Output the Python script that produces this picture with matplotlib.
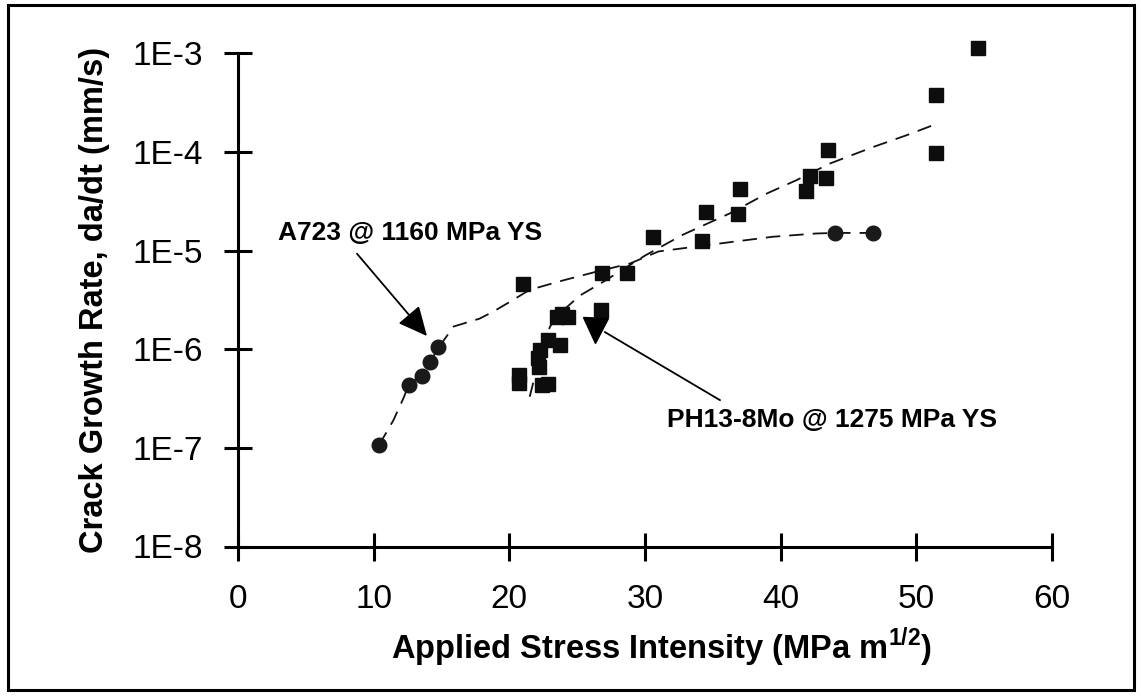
import matplotlib
matplotlib.use('Agg')
import matplotlib.pyplot as plt
from matplotlib.patches import Rectangle
from matplotlib.ticker import FixedLocator, NullLocator, FixedFormatter

# ---------------- data ----------------
# PH13-8Mo @ 1275 MPa YS (squares)
ph_x = [20.73, 20.73, 21.02, 22.13, 22.20, 22.25, 22.38, 22.87, 22.87, 23.73,
        23.48, 23.85, 24.34, 26.73, 26.80, 28.64, 30.56, 34.17, 34.46, 36.82,
        36.99, 41.86, 42.15, 43.33, 43.50, 51.44, 51.44, 54.55]
ph_y = [5.5e-7, 4.5e-7, 4.6e-6, 8.1e-7, 6.6e-7, 9.8e-7, 4.3e-7, 4.4e-7, 1.24e-6, 1.1e-6,
        2.1e-6, 2.3e-6, 2.1e-6, 2.5e-6, 5.96e-6, 5.96e-6, 1.36e-5, 1.26e-5, 2.45e-5, 2.35e-5,
        4.2e-5, 4.0e-5, 5.7e-5, 5.4e-5, 1.04e-4, 9.7e-5, 3.8e-4, 1.14e-3]

# A723 @ 1160 MPa YS (circles)
a723_x = [10.41, 12.62, 13.54, 14.15, 14.76, 44.0, 46.8]
a723_y = [1.07e-7, 4.3e-7, 5.4e-7, 7.4e-7, 1.06e-6, 1.51e-5, 1.51e-5]

# dashed trend curves
ph_fit_x = [21.5, 22.2, 23.0, 24.0, 25.2, 26.9, 28.5, 30.0, 32.8, 36.3,
            39.0, 41.2, 43.6, 46.8, 49.3, 51.2]
ph_fit_y = [3.3e-7, 7.9e-7, 1.7e-6, 2.5e-6, 3.5e-6, 4.8e-6, 6.6e-6, 8.9e-6, 1.45e-5, 2.4e-5,
            3.8e-5, 5.2e-5, 7.6e-5, 1.12e-4, 1.48e-4, 1.86e-4]

a723_fit_x = [10.4, 11.45, 12.2, 12.6, 13.5, 14.15, 14.8, 15.9, 17.8, 18.8,
              20.0, 21.5, 24.0, 26.4, 28.9, 31.0, 35.3, 39.4, 42.6, 44.0, 46.8]
a723_fit_y = [1.07e-7, 1.9e-7, 3.2e-7, 4.4e-7, 5.4e-7, 7.4e-7, 1.05e-6, 1.7e-6, 2.04e-6, 2.4e-6,
              3.0e-6, 4.0e-6, 5.0e-6, 6.1e-6, 7.4e-6, 9.8e-6, 1.17e-5, 1.38e-5, 1.49e-5, 1.51e-5, 1.51e-5]

x_ticks = [0, 10, 20, 30, 40, 50, 60]
x_tick_labels = ['0', '10', '20', '30', '40', '50', '60']
y_ticks = [1e-8, 1e-7, 1e-6, 1e-5, 1e-4, 1e-3]
y_tick_labels = ['1E-8', '1E-7', '1E-6', '1E-5', '1E-4', '1E-3']

x_label = r'Applied Stress Intensity (MPa m$^{\mathbf{1/2}}$)'
y_label = 'Crack Growth Rate, da/dt (mm/s)'
a723_note = 'A723 @ 1160 MPa YS'
ph_note = 'PH13-8Mo @ 1275 MPa YS'

# ---------------- styling ----------------
plt.rcParams['font.family'] = ['Liberation Sans', 'DejaVu Sans']
plt.rcParams['mathtext.fontset'] = 'custom'
plt.rcParams['mathtext.bf'] = 'Liberation Sans:bold'
plt.rcParams['mathtext.rm'] = 'Liberation Sans'

W, H = 1141, 700
fig = plt.figure(figsize=(W / 100, H / 100), dpi=100)
fig.patch.set_facecolor('white')

ax = fig.add_axes([238 / W, 1 - 546.5 / H, 814 / W, 493.2 / H])
ax.set_yscale('log')
ax.set_xlim(0, 60)
ax.set_ylim(1e-8, 1e-3)

dash = (0, (8, 5))
ax.plot(a723_fit_x, a723_fit_y, color='#111111', lw=1.3, ls=dash, zorder=2)
ax.plot(ph_fit_x, ph_fit_y, color='#111111', lw=1.3, ls=dash, zorder=2)

ax.plot(ph_x, ph_y, ls='none', marker='s', ms=9.5, color='#0d0d0d', mec='#0d0d0d',
        zorder=3, clip_on=False)
ax.plot(a723_x, a723_y, ls='none', marker='o', ms=10.5, color='#1a1a1a', mec='#1a1a1a',
        zorder=3, clip_on=False)

# axes styling
for s in ['top', 'right']:
    ax.spines[s].set_visible(False)
for s in ['left', 'bottom']:
    ax.spines[s].set_linewidth(2.2)
    ax.spines[s].set_color('black')

ax.xaxis.set_major_locator(FixedLocator(x_ticks))
ax.xaxis.set_major_formatter(FixedFormatter(x_tick_labels))
ax.yaxis.set_major_locator(FixedLocator(y_ticks))
ax.yaxis.set_major_formatter(FixedFormatter(y_tick_labels))
ax.yaxis.set_minor_locator(NullLocator())
ax.xaxis.set_minor_locator(NullLocator())

ax.tick_params(axis='both', which='major', direction='inout', length=20, width=2.2,
               color='black', labelsize=24)
ax.tick_params(axis='x', pad=17)
ax.tick_params(axis='y', pad=15)

# axis titles
fig.text(95 / W, 1 - 300 / H, y_label, rotation=90, ha='center', va='center',
         fontsize=23.5, fontweight='bold')
fig.text(662 / W, 1 - 659 / H, x_label, ha='center', va='baseline',
         fontsize=23.5, fontweight='bold')

# annotations
fig.text(278 / W, 1 - 240 / H, a723_note, ha='left', va='baseline',
         fontsize=19, fontweight='bold')
ax.annotate('', xy=(13.93, 1.36e-6), xytext=(8.77, 9.3e-6),
            arrowprops=dict(arrowstyle='-|>,head_length=1.8,head_width=0.85',
                            color='black', lw=1.3, mutation_scale=10,
                            shrinkA=0, shrinkB=0), zorder=4)

fig.text(667 / W, 1 - 426.7 / H, ph_note, ha='left', va='baseline',
         fontsize=19, fontweight='bold')
ax.plot([35.52, 27.05], [3.05e-7, 1.49e-6], color='black', lw=1.3, zorder=4)
ax.plot([26.31], [1.56e-6], marker='v', ms=18, color='black', ls='none', zorder=4)

# outer frame
fig.patches.append(Rectangle((8 / W, 1 - 690 / H), (1134 - 8) / W, (690 - 5) / H,
                             transform=fig.transFigure, fill=False,
                             edgecolor='black', lw=2.2))

fig.savefig('out.png', dpi=100)
